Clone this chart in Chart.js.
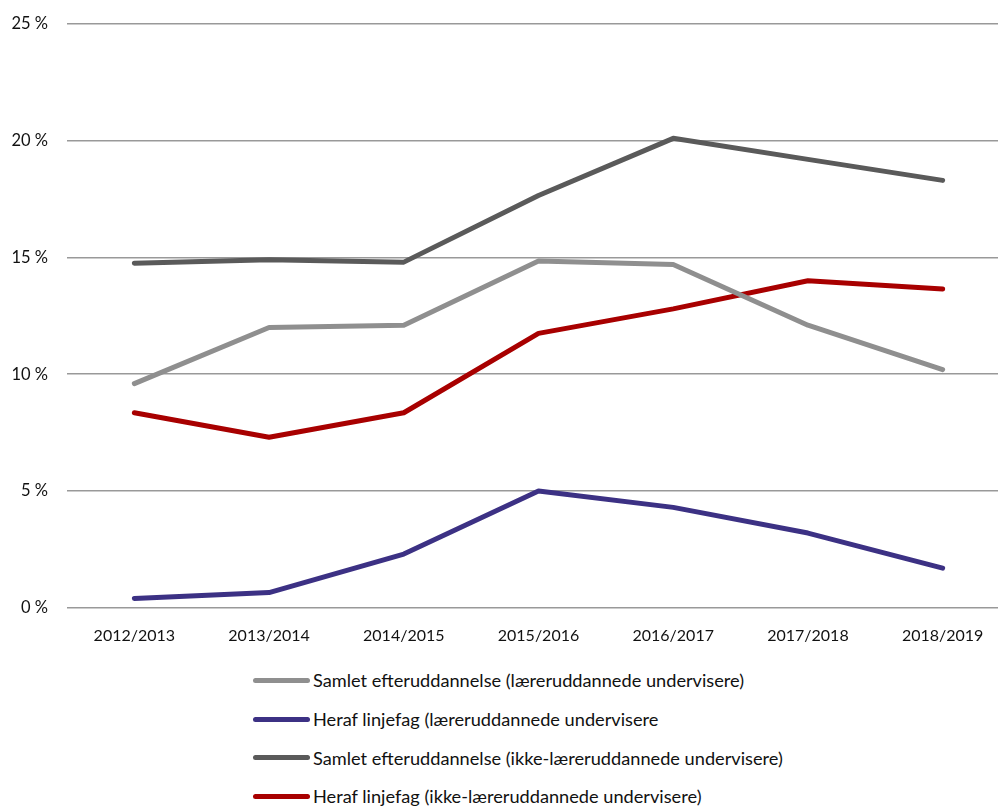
<!DOCTYPE html>
<html>
<head>
<meta charset="utf-8">
<script src="https://cdn.jsdelivr.net/npm/chart.js@4"></script>
<style>
  html, body { margin: 0; padding: 0; background: #fff; overflow: hidden; width: 998px; height: 806px; }
  #wrap { position: absolute; left: 0; top: -5px; width: 1010px; height: 660px; }
  #legend { position: absolute; left: 253px; top: 661px; font-family: "Source Sans Pro", Lato, sans-serif; font-size: 18.2px; color: #111; }
  .item { display: flex; align-items: center; height: 38.7px; }
  .swatch { width: 57px; height: 5px; border-radius: 3px; margin-right: 3px; }
</style>
</head>
<body>
<div id="wrap"><canvas id="myChart"></canvas></div>
<div id="legend"></div>
<script>
const years = ['2012/2013','2013/2014','2014/2015','2015/2016','2016/2017','2017/2018','2018/2019'];
const yTicks = [0, 5, 10, 15, 20, 25];

const names = [
  'Samlet efteruddannelse (læreruddannede undervisere)',
  'Heraf linjefag (læreruddannede undervisere',
  'Samlet efteruddannelse (ikke-læreruddannede undervisere)',
  'Heraf linjefag (ikke-læreruddannede undervisere)'
];
const samletLaerer = [9.6, 12.0, 12.1, 14.85, 14.7, 12.1, 10.2];
const linjefagLaerer = [0.4, 0.65, 2.3, 5.0, 4.3, 3.2, 1.7];
const samletIkke = [14.75, 14.9, 14.8, 17.65, 20.1, 19.2, 18.3];
const linjefagIkke = [8.35, 7.3, 8.35, 11.75, 12.8, 14.0, 13.65];
const colors = ['#8f8f8f', '#3c3184', '#5a5a5a', '#a80000'];

const series = [samletLaerer, linjefagLaerer, samletIkke, linjefagIkke];

const ctx = document.getElementById('myChart');

var chartData = {
  labels: years,
  datasets: series.map((d, i) => ({
    label: names[i],
    data: d,
    borderColor: colors[i],
    backgroundColor: colors[i],
    borderWidth: 5,
    borderCapStyle: 'round',
    borderJoinStyle: 'round',
    pointRadius: 0,
    tension: 0
  }))
};

new Chart(ctx, {
  type: 'line',
  data: chartData,
  options: {
    responsive: true,
    maintainAspectRatio: false,
    animation: false,
    layout: { padding: { top: 9, left: 0, right: 0, bottom: 0 } },
    plugins: {
      legend: { display: false },
      tooltip: { enabled: false }
    },
    scales: {
      x: {
        offset: true,
        grid: { display: false },
        border: { display: false },
        ticks: { color: '#111', font: { family: '"Source Sans Pro", Lato, sans-serif', size: 16 }, padding: 10, maxRotation: 0 }
      },
      y: {
        min: 0,
        max: 25,
        afterFit: s => { s.width = 67; },
        afterBuildTicks: s => { s.ticks = yTicks.map(v => ({ value: v })); },
        grid: { color: '#999', lineWidth: 1.5, drawTicks: false },
        border: { display: false },
        ticks: {
          color: '#111',
          padding: 19,
          font: { family: '"Source Sans Pro", Lato, sans-serif', size: 16.5 },
          callback: v => v + ' %'
        }
      }
    }
  }
});

const legend = document.getElementById('legend');
names.forEach((n, i) => {
  const row = document.createElement('div');
  row.className = 'item';
  row.innerHTML = '<span class="swatch" style="background:' + colors[i] + '"></span><span>' + n + '</span>';
  legend.appendChild(row);
});
</script>
</body>
</html>
